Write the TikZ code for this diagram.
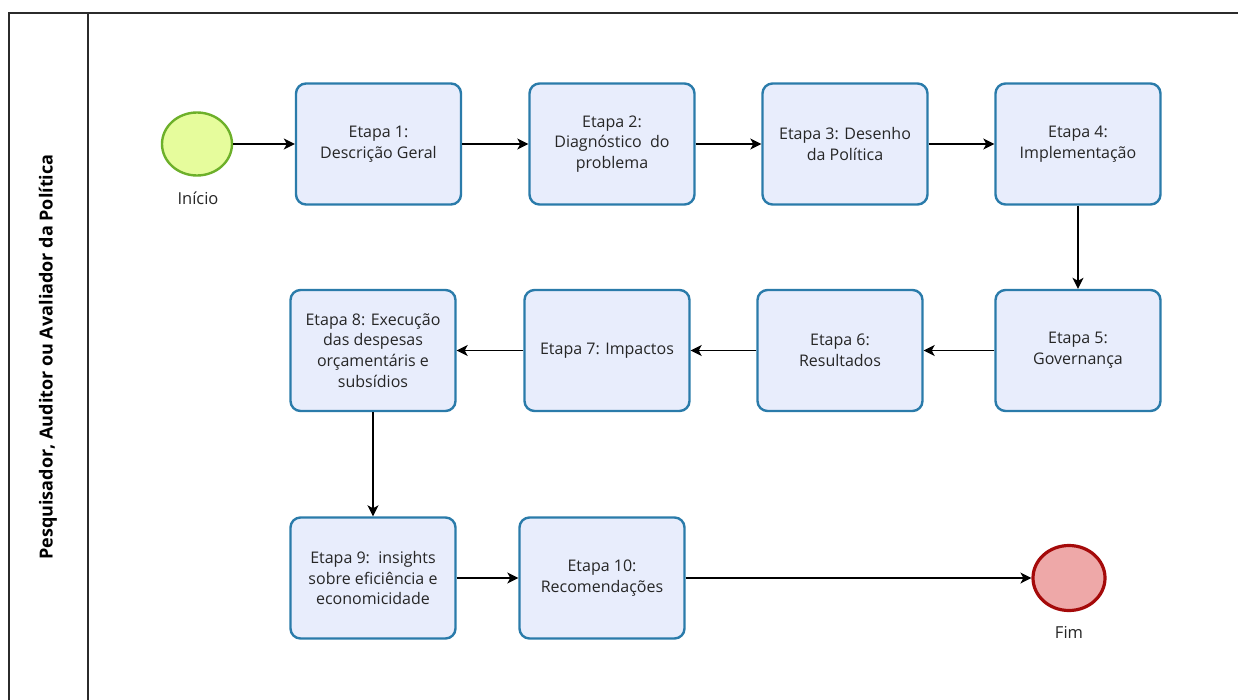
\documentclass[tikz,border=0pt]{standalone}
\usepackage{fontspec}
\setmainfont{Open Sans}
\usetikzlibrary{arrows.meta,shapes.geometric}
\definecolor{boxfill}{HTML}{E8EDFC}
\definecolor{boxline}{HTML}{2A7BAA}
\definecolor{startfill}{HTML}{E6FC9C}
\definecolor{startline}{HTML}{6DB02A}
\definecolor{endfill}{HTML}{EEA8A8}
\definecolor{endline}{HTML}{A50A0A}
\definecolor{frameline}{HTML}{2B2B2B}
\begin{document}
\begin{tikzpicture}[x=1pt,y=-1pt,
  stepbox/.style={draw=boxline,fill=boxfill,line width=2.4pt,rounded corners=10pt,
    minimum width=165pt,minimum height=121pt,align=center,inner sep=2pt,
    font=\fontsize{16}{20.7}\selectfont,text=black!85},
  startev/.style={ellipse,draw=startline,fill=startfill,line width=2.4pt,
    minimum width=70pt,minimum height=63pt,inner sep=0pt},
  endev/.style={ellipse,draw=endline,fill=endfill,line width=3.2pt,
    minimum width=72pt,minimum height=65pt,inner sep=0pt},
  evlabel/.style={font=\fontsize{16.5}{18}\selectfont,text=black!85},
  flow/.style={draw=black,line width=1.4pt,-{Stealth[length=11pt,width=11pt,inset=3pt]}},
  lane/.style={draw=frameline,line width=1.6pt}
]
\useasboundingbox (0,0) rectangle (1238,700);
\fill[white] (0,0) rectangle (1238,700);

% pool frame and lane header
\draw[lane] (9,700) -- (9,13) -- (1240,13);
\draw[lane] (88,13) -- (88,700);
\node[rotate=90,font=\fontsize{18}{20}\selectfont\bfseries] (lanename) at (48,357)
  {Pesquisador, Auditor ou Avaliador da Política};

% events
\node[startev] (start) at (197,144) {};
\node[evlabel] (startlbl) at (198,198) {Início};
\node[endev] (fim) at (1069,578) {};
\node[evlabel] (fimlbl) at (1069,632) {Fim};

% row 1
\node[stepbox] (e1) at (378.5,144) {Etapa 1:\\Descrição Geral};
\node[stepbox] (e2) at (612,144) {Etapa 2:\\Diagnóstico\ \ do\\problema};
\node[stepbox] (e3) at (845,144) {Etapa 3: Desenho\\da Política};
\node[stepbox] (e4) at (1078,144) {Etapa 4:\\Implementação};
% row 2
\node[stepbox] (e5) at (1078,350.5) {Etapa 5:\\Governança};
\node[stepbox] (e6) at (840,350.5) {Etapa 6:\\Resultados};
\node[stepbox] (e7) at (607,350.5) {Etapa 7: Impactos};
\node[stepbox] (e8) at (373,350.5) {Etapa 8: Execução\\das despesas\\orçamentáris e\\subsídios};
% row 3
\node[stepbox] (e9) at (373,578) {Etapa 9:\ \ insights\\sobre eficiência e\\economicidade};
\node[stepbox] (e10) at (602,578) {Etapa 10:\\Recomendações};

% sequence flows
\draw[flow] (start) -- (e1);
\draw[flow] (e1) -- (e2);
\draw[flow] (e2) -- (e3);
\draw[flow] (e3) -- (e4);
\draw[flow] (e4) -- (e5);
\draw[flow] (e5) -- (e6);
\draw[flow] (e6) -- (e7);
\draw[flow] (e7) -- (e8);
\draw[flow] (e8) -- (e9);
\draw[flow] (e9) -- (e10);
\draw[flow] (e10) -- (fim);
\end{tikzpicture}
\end{document}
